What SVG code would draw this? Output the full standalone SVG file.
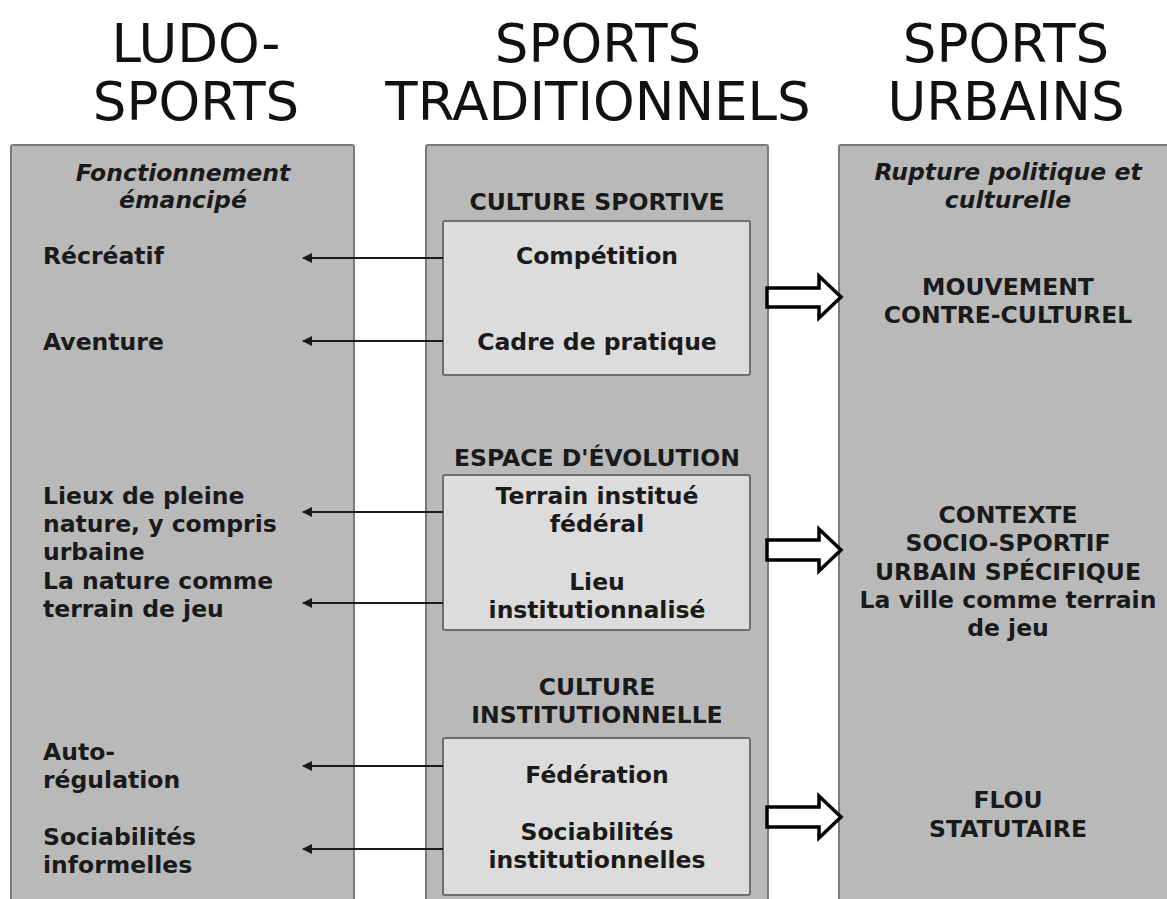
<svg xmlns="http://www.w3.org/2000/svg" width="1167" height="899" viewBox="0 0 1167 899">
<style>
.col{fill:#b9b9b9;stroke:#7a7a7a;stroke-width:2}
.box{fill:#dcdcdc;stroke:#6e6e6e;stroke-width:2}
.hd{font-family:"DejaVu Sans",Verdana,sans-serif;font-size:53px;fill:#111;text-anchor:middle}
.t{font-family:"DejaVu Sans",Verdana,sans-serif;font-size:23.5px;font-weight:bold;fill:#1a1a1a}
.c{text-anchor:middle}
.i{font-style:italic}
.ln{stroke:#1a1a1a;stroke-width:2;fill:none}
.blk{fill:#fff;stroke:#000;stroke-width:3.5;stroke-linejoin:miter}
</style>
<defs>
<marker id="ah" viewBox="0 0 10 10" refX="9" refY="5" markerWidth="6" markerHeight="5" orient="auto">
<path d="M0,0 L10,5 L0,10 Z" fill="#1a1a1a"/>
</marker>
</defs>
<rect width="1167" height="899" fill="#fff"/>
<g id="headers">
<text class="hd" x="196" y="62">LUDO-</text>
<text class="hd" x="196" y="120">SPORTS</text>
<text class="hd" x="598" y="62">SPORTS</text>
<text class="hd" x="598" y="120">TRADITIONNELS</text>
<text class="hd" x="1006" y="62">SPORTS</text>
<text class="hd" x="1006" y="120">URBAINS</text>
</g>
<g id="col-ludo">
<rect class="col" x="11" y="145" width="343" height="770" rx="2"/>
<text class="t i c" x="183" y="181">Fonctionnement</text>
<text class="t i c" x="183" y="208">émancipé</text>
<text class="t" x="43" y="264">Récréatif</text>
<text class="t" x="43" y="350">Aventure</text>
<text class="t" x="43" y="504">Lieux de pleine</text>
<text class="t" x="43" y="532">nature, y compris</text>
<text class="t" x="43" y="560">urbaine</text>
<text class="t" x="43" y="589">La nature comme</text>
<text class="t" x="43" y="617">terrain de jeu</text>
<text class="t" x="43" y="760">Auto-</text>
<text class="t" x="43" y="788">régulation</text>
<text class="t" x="43" y="845">Sociabilités</text>
<text class="t" x="43" y="873">informelles</text>
</g>
<g id="col-trad">
<rect class="col" x="426" y="145" width="342" height="770" rx="2"/>
<text class="t c" x="597" y="210">CULTURE SPORTIVE</text>
<g id="box-culture-sportive">
<rect class="box" x="443" y="221" width="307" height="154" rx="2"/>
<text class="t c" x="597" y="264">Compétition</text>
<text class="t c" x="597" y="350">Cadre de pratique</text>
</g>
<text class="t c" x="597" y="466">ESPACE D'ÉVOLUTION</text>
<g id="box-espace">
<rect class="box" x="443" y="475" width="307" height="155" rx="2"/>
<text class="t c" x="597" y="504">Terrain institué</text>
<text class="t c" x="597" y="532">fédéral</text>
<text class="t c" x="597" y="590">Lieu</text>
<text class="t c" x="597" y="618">institutionnalisé</text>
</g>
<text class="t c" x="597" y="695">CULTURE</text>
<text class="t c" x="597" y="723">INSTITUTIONNELLE</text>
<g id="box-institution">
<rect class="box" x="443" y="738" width="307" height="157" rx="2"/>
<text class="t c" x="597" y="783">Fédération</text>
<text class="t c" x="597" y="840">Sociabilités</text>
<text class="t c" x="597" y="868">institutionnelles</text>
</g>
</g>
<g id="col-urbains">
<rect class="col" x="839" y="145" width="340" height="770" rx="2"/>
<text class="t i c" x="1008" y="180">Rupture politique et</text>
<text class="t i c" x="1008" y="208">culturelle</text>
<text class="t c" x="1008" y="295">MOUVEMENT</text>
<text class="t c" x="1008" y="323">CONTRE-CULTUREL</text>
<text class="t c" x="1008" y="523">CONTEXTE</text>
<text class="t c" x="1008" y="551">SOCIO-SPORTIF</text>
<text class="t c" x="1008" y="580">URBAIN SPÉCIFIQUE</text>
<text class="t c" x="1008" y="608">La ville comme terrain</text>
<text class="t c" x="1008" y="636">de jeu</text>
<text class="t c" x="1008" y="808">FLOU</text>
<text class="t c" x="1008" y="837">STATUTAIRE</text>
</g>
<g id="connectors">
<line class="ln" x1="443" y1="258" x2="303" y2="258" marker-end="url(#ah)"/>
<line class="ln" x1="443" y1="341" x2="303" y2="341" marker-end="url(#ah)"/>
<line class="ln" x1="443" y1="512" x2="303" y2="512" marker-end="url(#ah)"/>
<line class="ln" x1="443" y1="603" x2="303" y2="603" marker-end="url(#ah)"/>
<line class="ln" x1="443" y1="766" x2="303" y2="766" marker-end="url(#ah)"/>
<line class="ln" x1="443" y1="849" x2="303" y2="849" marker-end="url(#ah)"/>
<path class="blk" d="M767,288 L819,288 L819,276 L841,297 L819,318 L819,307 L767,307 Z"/>
<path class="blk" d="M767,540 L819,540 L819,529 L841,550 L819,571 L819,560 L767,560 Z"/>
<path class="blk" d="M767,807 L819,807 L819,796 L841,817 L819,838 L819,827 L767,827 Z"/>
</g>
</svg>
